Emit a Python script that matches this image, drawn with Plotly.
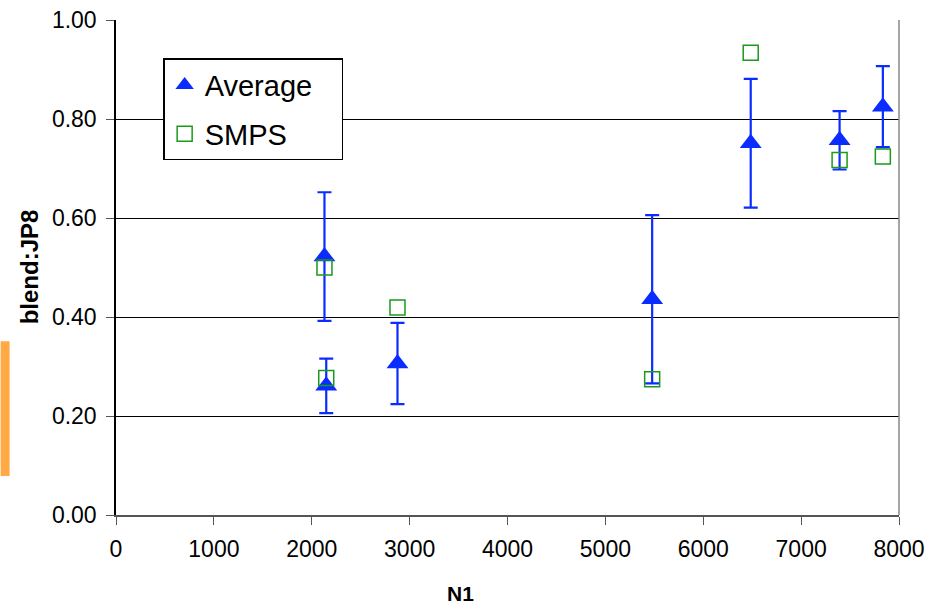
import plotly.graph_objects as go

# N1 positions of the measured cases
n1 = [2130, 2148, 2876, 5478, 6485, 7393, 7835]
# Average blend:JP8 ratio and its spread
average = [0.522, 0.261, 0.306, 0.436, 0.751, 0.757, 0.825]
average_err = [0.130, 0.055, 0.082, 0.170, 0.130, 0.059, 0.082]
# SMPS-derived ratio
smps = [0.500, 0.277, 0.419, 0.274, 0.934, 0.717, 0.724]

x_ticks = [0, 1000, 2000, 3000, 4000, 5000, 6000, 7000, 8000]
y_ticks = [0.0, 0.2, 0.4, 0.6, 0.8, 1.0]

FONT = "Arial, Liberation Sans, sans-serif"
BLUE = "#0a2cff"
GREEN = "#1a9a1a"
PAD = "\u00a0\u00a0\u00a0"  # keeps the legend box a little wider than its text

# plot area in pixels
L, R, T, B = 115.5, 44.7, 19.5, 90
PW, PH = 944 - L - R, 605 - T - B

fig = go.Figure()

fig.add_trace(go.Scatter(
    x=n1, y=average, mode="markers", name="Average" + PAD, legendgroup="avg",
    marker=dict(symbol="triangle-up", size=19, color=BLUE, line=dict(width=0)),
    error_y=dict(type="data", array=average_err, visible=True,
                 color=BLUE, thickness=2.2, width=7),
))

fig.add_trace(go.Scatter(
    x=n1, y=smps, mode="markers", name="SMPS", legendgroup="smps",
    marker=dict(symbol="square-open", size=15, color=GREEN, line=dict(width=1.5, color=GREEN)),
))

fig.update_layout(
    width=944, height=605,
    margin=dict(l=L, r=R, t=T, b=B, autoexpand=False),
    plot_bgcolor="white", paper_bgcolor="white",
    font=dict(family=FONT, size=22, color="black"),
    showlegend=True,
    legend=dict(
        x=(163 - L) / PW, y=(605 - B - 58) / PH, xanchor="left", yanchor="top",
        bgcolor="white", bordercolor="black", borderwidth=1.2,
        font=dict(family=FONT, size=29, color="black"),
        traceorder="grouped", tracegroupgap=8, itemsizing="trace",
    ),
    xaxis=dict(
        range=[0, 8000], tickvals=x_ticks, ticktext=[str(v) for v in x_ticks],
        showgrid=False, zeroline=False, automargin=False,
        showline=True, linecolor="#555555", linewidth=1.5, mirror=False,
        ticks="outside", ticklen=8, tickcolor="#555555", tickwidth=1.2,
        ticklabelstandoff=5,
        tickfont=dict(family=FONT, size=23),
    ),
    yaxis=dict(
        range=[0, 1], tickvals=y_ticks, ticktext=[f"{v:.2f}" for v in y_ticks],
        showgrid=True, gridcolor="black", gridwidth=1.2, zeroline=False, automargin=False,
        showline=True, linecolor="black", linewidth=1.5,
        ticks="outside", ticklen=8, tickcolor="#555555", tickwidth=1.2,
        ticklabelstandoff=5,
        tickfont=dict(family=FONT, size=23),
    ),
    annotations=[
        dict(text="<b>N1</b>", xref="paper", yref="paper",
             x=(460 - L) / PW, y=(605 - B - 594) / PH, xanchor="center", yanchor="middle",
             showarrow=False, font=dict(family=FONT, size=21)),
        dict(text="<b>blend:JP8</b>", xref="paper", yref="paper", textangle=-90,
             x=(28.5 - L) / PW, y=(605 - B - 267) / PH, xanchor="center", yanchor="middle",
             showarrow=False, font=dict(family=FONT, size=24)),
    ],
)

# Right edge of the plot area
fig.add_shape(type="line", xref="paper", yref="paper", x0=1, x1=1, y0=0, y1=1,
              line=dict(color="#888888", width=1.5))
# Orange tab at the left edge of the page
fig.add_shape(type="rect", xref="paper", yref="paper",
              x0=-L / PW, x1=(9 - L) / PW,
              y0=(605 - B - 476) / PH, y1=(605 - B - 341) / PH,
              fillcolor="#ffaa44", line=dict(width=0), layer="above")

fig.write_html("out.html")
